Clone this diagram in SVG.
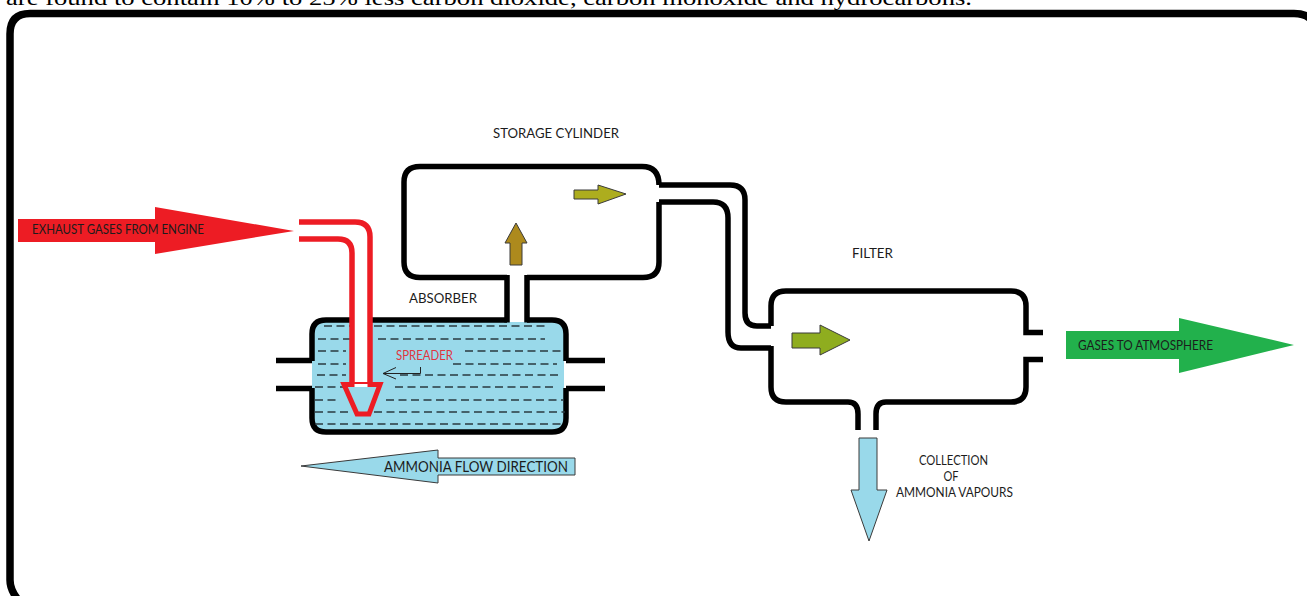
<svg xmlns="http://www.w3.org/2000/svg" width="1307" height="596" viewBox="0 0 1307 596">
<style>
.w{fill:none;stroke:#000;stroke-width:5.500}
.r{fill:none;stroke:#ed1c24;stroke-width:5.500}
.d{fill:none;stroke:#2a3a40;stroke-width:1.4;stroke-dasharray:8 4.5}
.a{stroke:#3a3a3a;stroke-width:1}
.t{font-family:Lato,"Open Sans",sans-serif;font-size:13.500px;fill:#1c1c1c}
</style>
<rect width="1307" height="596" fill="#fff"/>
<text x="6" y="5" font-family="'Liberation Serif',serif" font-size="21px" fill="#000" textLength="966" lengthAdjust="spacingAndGlyphs">are found to contain 10% to 25% less carbon dioxide, carbon monoxide and hydrocarbons.</text>
<path id="frame" d="M22,604 Q10,592 10,580 V34 Q10,13.500 30,13.500 H1294 Q1318,13.500 1318,40" fill="none" stroke="#000" stroke-width="7.500"/>
<g id="absorber">
<path d="M326,322 H552 Q564,322 564,334 V418 Q564,430 552,430 H326 Q314,430 314,418 V388 H312 V360 H314 V334 Q314,322 326,322 Z" fill="#99d9ea"/>
<path class="w" d="M507,320 H326 Q312,320 312,334 V361 M312,388 V418 Q312,432 326,432 H552 Q566,432 566,418 V388 M566,361 V334 Q566,320 552,320 H527"/>
<path class="w" d="M276,360.500 H312 M276,388.500 H312 M566,360.500 H605 M566,388.500 H605"/>
<path class="d" d="M324,326 H546 M318,339 H350 M378,339 H545 M318,351 H346 M465,351 H565 M318,364 H346 M453,364 H557 M317,375 H346 M400,375 H558 M315,387 H345 M395,387 H557 M315,400 H337 M386,400 H564 M315,412 H352 M374,412 H565 M315,424 H565"/>
<text class="t" x="409" y="303" textLength="68" lengthAdjust="spacingAndGlyphs">ABSORBER</text>
</g>
<g id="storage-cylinder">
<path class="w" d="M507,275 V322.500 M527,275 V322.500"/>
<path class="w" d="M507,277.500 H420 Q404,277.500 404,262 V182 Q404,166.500 420,166.500 H642 Q659,166.500 659,185 M659,202 V262 Q659,277.500 643,277.500 H527"/>
<text class="t" x="493" y="138" textLength="126" lengthAdjust="spacingAndGlyphs">STORAGE CYLINDER</text>
</g>
<g id="filter">
<path class="w" d="M771,326 V306 Q771,291 786,291 H1011 Q1026,291 1026,306 V332.500 H1043 M771,346 V387 Q771,402 786,402 H848 Q858,402 858,414 V430 M876,430 V414 Q876,402 886,402 H1011 Q1026,402 1026,387 V359.500 H1043"/>
<text class="t" x="852" y="258" textLength="41" lengthAdjust="spacingAndGlyphs">FILTER</text>
</g>
<g id="connectors">
<path class="w" d="M659,185 H730 Q745,185 745,200 V313 Q745,326 757,326 H771"/>
<path class="w" d="M659,202 H713 Q728,202 728,218 V332 Q728,348 741,348 H771"/>
<rect x="352" y="316" width="18" height="72" fill="#fff"/>
<path class="r" d="M299,222 H355 Q370,222 370,237 V385"/>
<path class="r" d="M299,239 H338 Q352,239 352,253 V385"/>
</g>
<g id="spreader">
<path d="M344,384.500 H380 L369,414 H357 Z" fill="#99d9ea" stroke="#ed1c24" stroke-width="5"/>
<rect x="354.500" y="384" width="13" height="3" fill="#fff"/>
<path d="M420.500,367 V373.500 H383 M396,367.500 L383,373.500 L396,379" fill="none" stroke="#222" stroke-width="1"/>
<text class="t" x="396" y="360" textLength="57" lengthAdjust="spacingAndGlyphs" style="fill:#e0353e">SPREADER</text>
</g>
<g id="exhaust-arrow">
<path d="M18,219 H155 V207 L294,231 L155,254 V242 H18 Z" fill="#ed1c24"/>
<text class="t" x="32" y="234" textLength="172" lengthAdjust="spacingAndGlyphs">EXHAUST GASES FROM ENGINE</text>
</g>
<g id="atmosphere-arrow">
<path d="M1066,331 H1179 V318 L1294,345 L1179,373 V359 H1066 Z" fill="#22b14c"/>
<text class="t" x="1078" y="350" textLength="135" lengthAdjust="spacingAndGlyphs">GASES TO ATMOSPHERE</text>
</g>
<g id="ammonia-arrow">
<path class="a" d="M301,466 L438,450 V458 H575 V475 H438 V483 Z" fill="#99d9ea"/>
<text class="t" x="384" y="472" textLength="184" lengthAdjust="spacingAndGlyphs" style="font-size:15px">AMMONIA FLOW DIRECTION</text>
</g>
<g id="collection-arrow">
<path class="a" d="M859,438 H877 V490 H887 L869,541 L851,490 H859 Z" fill="#99d9ea"/>
<text class="t" x="953.500" y="464.500" text-anchor="middle" textLength="69" lengthAdjust="spacingAndGlyphs">COLLECTION</text>
<text class="t" x="951" y="480.500" text-anchor="middle" textLength="15" lengthAdjust="spacingAndGlyphs">OF</text>
<text class="t" x="954.500" y="496.500" text-anchor="middle" textLength="117" lengthAdjust="spacingAndGlyphs">AMMONIA VAPOURS</text>
</g>
<g id="flow-arrows">
<path class="a" d="M574,190 H598 V185 L626,194 L598,204 V199 H574 Z" fill="#adad1e"/>
<path class="a" d="M510,265 V243 H505 L516,223 L527,243 H522 V265 Z" fill="#ad8a1d"/>
<path class="a" d="M792,333 H820 V325 L850,340 L820,355 V348 H792 Z" fill="#8fad1f"/>
</g>
</svg>
